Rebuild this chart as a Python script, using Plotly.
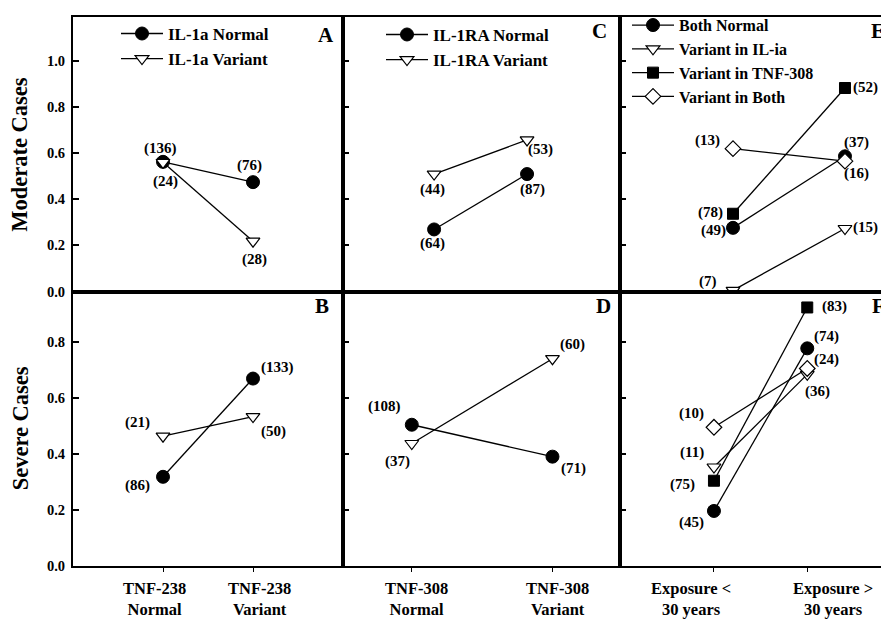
import plotly.graph_objects as go

# page is offset by the default 8px body margin, so the figure is drawn 8px smaller
OFF = 8
W, H = 889 - OFF, 621 - OFF

def fx(px):
    return (px - OFF) / W

def fy(py):
    return 1 - (py - OFF) / H

# ---------------- data ----------------
x_pos = [1, 2]

# Panel A (moderate cases, IL-1a split by TNF-238)
a_normal = [0.562, 0.474]
a_variant = [0.560, 0.218]
a_normal_n = [136, 76]
a_variant_n = [24, 28]

# Panel B (severe cases, IL-1a split by TNF-238)
b_normal = [0.319, 0.670]
b_variant = [0.464, 0.534]
b_normal_n = [86, 133]
b_variant_n = [21, 50]

# Panel C (moderate cases, IL-1RA split by TNF-308)
c_normal = [0.269, 0.509]
c_variant = [0.509, 0.657]
c_normal_n = [64, 87]
c_variant_n = [44, 53]

# Panel D (severe cases, IL-1RA split by TNF-308)
d_normal = [0.505, 0.391]
d_variant = [0.438, 0.741]
d_normal_n = [108, 71]
d_variant_n = [37, 60]

# Panel E (moderate cases, by exposure)
e_both_normal = [0.276, 0.586]
e_var_il = [0.005, 0.273]
e_var_tnf = [0.337, 0.882]
e_var_both = [0.619, 0.565]
e_both_normal_n = [49, 37]
e_var_il_n = [7, 15]
e_var_tnf_n = [78, 52]
e_var_both_n = [13, 16]

# Panel F (severe cases, by exposure)
f_both_normal = [0.197, 0.778]
f_var_il = [0.354, 0.685]
f_var_tnf = [0.305, 0.924]
f_var_both = [0.496, 0.706]
f_both_normal_n = [45, 74]
f_var_il_n = [11, 36]
f_var_tnf_n = [75, 83]
f_var_both_n = [10, 24]

labels_b = ["TNF-238<br>Normal", "TNF-238<br>Variant"]
labels_d = ["TNF-308<br>Normal", "TNF-308<br>Variant"]
labels_f = ["Exposure &lt;<br>30 years", "Exposure &gt;<br>30 years"]

top_ticks = [0.0, 0.2, 0.4, 0.6, 0.8, 1.0]
bot_ticks = [0.0, 0.2, 0.4, 0.6, 0.8]

# ---------------- styles ----------------
FONT = "Liberation Serif"

def bf(size):
    return dict(size=size, family=FONT, color="black", weight="bold")

STY = {
    "circle": dict(symbol="circle", size=13, color="black", line=dict(color="black", width=1)),
    "tri": dict(symbol="triangle-down", size=12, color="white", line=dict(color="black", width=1.2)),
    "square": dict(symbol="square", size=11, color="black", line=dict(color="black", width=1)),
    "diamond": dict(symbol="diamond", size=12, color="white", line=dict(color="black", width=1.2)),
}

fig = go.Figure()

def add(xa, ya, y, name, sty, legend=None):
    fig.add_trace(go.Scatter(
        x=x_pos, y=y, name=name, mode="lines+markers",
        line=dict(color="black", width=1.3), marker=STY[sty],
        xaxis=xa, yaxis=ya, showlegend=legend is not None,
        legend=legend if legend else "legend", hoverinfo="skip"))

# Panel A
add("x", "y", a_normal, "IL-1a Normal", "circle", "legend")
add("x", "y", a_variant, "IL-1a Variant", "tri", "legend")
# Panel C
add("x2", "y2", c_normal, "IL-1RA Normal", "circle", "legend2")
add("x2", "y2", c_variant, "IL-1RA Variant", "tri", "legend2")
# Panel E
add("x3", "y3", e_both_normal, "Both Normal", "circle", "legend3")
add("x3", "y3", e_var_il, "Variant in IL-ia", "tri", "legend3")
add("x3", "y3", e_var_tnf, "Variant in TNF-308", "square", "legend3")
add("x3", "y3", e_var_both, "Variant in Both", "diamond", "legend3")
# Panel B
add("x4", "y4", b_normal, "IL-1a Normal", "circle")
add("x4", "y4", b_variant, "IL-1a Variant", "tri")
# Panel D
add("x5", "y5", d_normal, "IL-1RA Normal", "circle")
add("x5", "y5", d_variant, "IL-1RA Variant", "tri")
# Panel F
add("x6", "y6", f_both_normal, "Both Normal", "circle")
add("x6", "y6", f_var_il, "Variant in IL-ia", "tri")
add("x6", "y6", f_var_tnf, "Variant in TNF-308", "square")
add("x6", "y6", f_var_both, "Variant in Both", "diamond")

# ---------------- count labels ----------------
ann = []

def counts(xa, ya, yvals, ns, offsets):
    for xv, yv, n, (dx, dy) in zip(x_pos, yvals, ns, offsets):
        ann.append(dict(x=xv, y=yv, xref=xa, yref=ya, text=f"({n})", showarrow=False,
                        xanchor="center", yanchor="middle",
                        xshift=dx, yshift=-dy, font=bf(15)))

counts("x", "y", a_normal, a_normal_n, [(-3, -13), (-4, -17)])
counts("x", "y", a_variant, a_variant_n, [(2, 19), (1, 18)])
counts("x2", "y2", c_normal, c_normal_n, [(-2, 14), (5, 15)])
counts("x2", "y2", c_variant, c_variant_n, [(-2, 15), (13, 10)])
counts("x3", "y3", e_both_normal, e_both_normal_n, [(-20, 3), (12, -14)])
counts("x3", "y3", e_var_il, e_var_il_n, [(-25, -9), (21, -1)])
counts("x3", "y3", e_var_tnf, e_var_tnf_n, [(-23, -1), (21, -1)])
counts("x3", "y3", e_var_both, e_var_both_n, [(-26, -8), (12, 12)])
counts("x4", "y4", b_normal, b_normal_n, [(-26, 9), (24, -11)])
counts("x4", "y4", b_variant, b_variant_n, [(-26, -14), (20, 15)])
counts("x5", "y5", d_normal, d_normal_n, [(-27, -18), (21, 12)])
counts("x5", "y5", d_variant, d_variant_n, [(-14, 18), (20, -14)])
counts("x6", "y6", f_both_normal, f_both_normal_n, [(-22, 12), (19, -12)])
counts("x6", "y6", f_var_il, f_var_il_n, [(-22, -15), (10, 17)])
counts("x6", "y6", f_var_tnf, f_var_tnf_n, [(-31, 4), (27, -1)])
counts("x6", "y6", f_var_both, f_var_both_n, [(-22, -14), (19, -9)])

# panel letters
for letter, px, py in [("A", 326, 30), ("C", 599, 25), ("E", 878, 25),
                       ("B", 322, 307), ("D", 603, 307), ("F", 878, 307)]:
    ann.append(dict(x=fx(px), y=fy(py), xref="paper", yref="paper", text=letter,
                    xanchor="center", yanchor="middle", showarrow=False, font=bf(21)))

# y titles
for txt, py in [("Moderate Cases", 152), ("Severe Cases", 432)]:
    ann.append(dict(x=fx(20), y=fy(py), xref="paper", yref="paper", text=txt, textangle=-90,
                    xanchor="center", yanchor="middle", showarrow=False, font=bf(22.5)))

# category labels under the bottom panels
for xa, labs, shifts in [("x4", labels_b, [-9, 6]),
                         ("x5", labels_d, [5, 5]),
                         ("x6", labels_f, [-23, 26])]:
    for xv, t, dx in zip(x_pos, labs, shifts):
        ann.append(dict(x=xv, y=fy(606.5), xref=xa, yref="paper", xanchor="center",
                        yanchor="middle", text=t, showarrow=False, xshift=dx, font=bf(16.5)))

fig.update_layout(annotations=ann)

# ---------------- axes ----------------
colx = [[fx(73), fx(343)], [fx(343), fx(620)], [fx(620), 1.0]]
rowy = [[fy(292), fy(11)], [fy(573), fy(292)]]
xranges = [[0, 3], [0.02, 3.0], [-0.009, 2.393], [0, 3], [0.511, 2.48], [-0.007, 2.876]]

for i in range(6):
    r, c = divmod(i, 3)
    sfx = "" if i == 0 else str(i + 1)
    xa = dict(domain=colx[c], range=xranges[i], anchor="y" + sfx, showline=True, linecolor="black",
              linewidth=2, mirror=True, showgrid=False, zeroline=False, fixedrange=True,
              showticklabels=False)
    if r == 0:
        xa.update(ticks="")
    else:
        xa.update(tickmode="array", tickvals=x_pos, ticks="outside", ticklen=4,
                  tickwidth=1.2, tickcolor="black")
    ya = dict(domain=rowy[r], range=[0, 1.19] if r == 0 else [0, 0.981], anchor="x" + sfx,
              showline=True, linecolor="black", linewidth=2, mirror=(c < 2), showgrid=False,
              zeroline=False, tickmode="array", tickvals=top_ticks if r == 0 else bot_ticks,
              ticks="inside", ticklen=6, tickwidth=1.5, tickcolor="black",
              showticklabels=(c == 0), tickformat=".1f", tickfont=bf(14.5),
              ticklabelstandoff=3, fixedrange=True)
    fig.update_layout(**{"xaxis" + sfx: xa, "yaxis" + sfx: ya})

fig.update_layout(
    width=W, height=H, margin=dict(l=0, r=0, t=0, b=0),
    paper_bgcolor="white", plot_bgcolor="white",
    font=dict(family=FONT, color="black"),
    legend=dict(x=fx(116), y=fy(10), xanchor="left", yanchor="top", bgcolor="rgba(0,0,0,0)",
                font=bf(17), tracegroupgap=0, itemwidth=42),
    legend2=dict(x=fx(381), y=fy(11), xanchor="left", yanchor="top", bgcolor="rgba(0,0,0,0)",
                 font=bf(17), tracegroupgap=0, itemwidth=42),
    legend3=dict(x=fx(627), y=fy(2), xanchor="left", yanchor="top", bgcolor="rgba(0,0,0,0)",
                 font=bf(16), tracegroupgap=0, itemwidth=42),
)

fig.write_html("out.html")
